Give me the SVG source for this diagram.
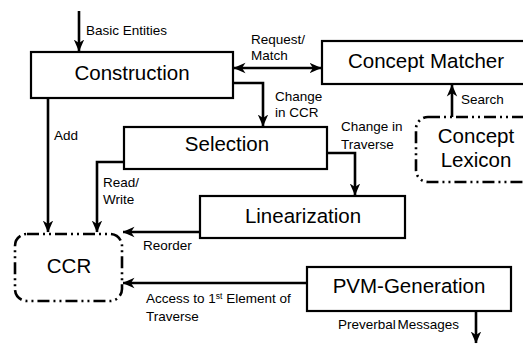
<svg xmlns="http://www.w3.org/2000/svg" width="523" height="347" viewBox="0 0 523 347">
<style>
  .box { fill: #fff; stroke: #000; stroke-width: 2.2; }
  .dd { fill: #fff; stroke: #000; stroke-width: 2.6; stroke-dasharray: 12 4 2 4 2 4; }
  .lbl { font-family: "Liberation Sans", Arial, sans-serif; font-size: 20.5px; fill: #000; text-anchor: middle; }
  .el { font-family: "Liberation Sans", Arial, sans-serif; font-size: 13.5px; fill: #000; }
  .conn { fill: none; stroke: #000; stroke-width: 2.6; }
</style>
<defs>
  <marker id="arr" viewBox="0 0 12 12" markerUnits="userSpaceOnUse" markerWidth="12" markerHeight="12" refX="11.5" refY="6" orient="auto-start-reverse">
    <path d="M0,0.8 L12,6 L0,11.2 L3.5,6 z" fill="#000"/>
  </marker>
</defs>
<rect width="523" height="347" fill="#fff"/>

<g id="connectors">
  <path class="conn" d="M79,11 V51" marker-end="url(#arr)"/>
  <path class="conn" d="M234,68 H321" marker-start="url(#arr)" marker-end="url(#arr)"/>
  <path class="conn" d="M233,83 H263 V126" marker-end="url(#arr)"/>
  <path class="conn" d="M48,98 V232" marker-end="url(#arr)"/>
  <path class="conn" d="M327,153 H355 V195" marker-end="url(#arr)"/>
  <path class="conn" d="M452,117 V85" marker-end="url(#arr)"/>
  <path class="conn" d="M124,162 H97 V232" marker-end="url(#arr)"/>
  <path class="conn" d="M200,232 H123" marker-end="url(#arr)"/>
  <path class="conn" d="M307,283 H123" marker-end="url(#arr)"/>
  <path class="conn" d="M476,311 V343" marker-end="url(#arr)"/>
</g>

<g id="construction">
  <rect class="box" x="31" y="52" width="202" height="46"/>
  <text class="lbl" x="132" y="80">Construction</text>
</g>
<g id="concept-matcher">
  <rect class="box" x="322" y="41" width="210" height="43"/>
  <text class="lbl" x="426" y="68">Concept Matcher</text>
</g>
<g id="selection">
  <rect class="box" x="124" y="127" width="203" height="42"/>
  <text class="lbl" x="227" y="151">Selection</text>
</g>
<g id="concept-lexicon">
  <rect class="dd" x="416" y="117" width="130" height="65" rx="12"/>
  <text class="lbl" x="476" y="143">Concept</text>
  <text class="lbl" x="476" y="167">Lexicon</text>
</g>
<g id="linearization">
  <rect class="box" x="200" y="196" width="205" height="42"/>
  <text class="lbl" x="303" y="223">Linearization</text>
</g>
<g id="ccr">
  <rect class="dd" x="15" y="234" width="107" height="67" rx="12"/>
  <text class="lbl" x="69" y="273">CCR</text>
</g>
<g id="pvm-generation">
  <rect class="box" x="307" y="267" width="204" height="44"/>
  <text class="lbl" x="409" y="293">PVM-Generation</text>
</g>

<g id="labels">
  <text class="el" x="86" y="35">Basic Entities</text>
  <text class="el" x="251" y="44">Request/</text>
  <text class="el" x="251" y="60">Match</text>
  <text class="el" x="275" y="101">Change</text>
  <text class="el" x="275" y="117">in CCR</text>
  <text class="el" x="54" y="140">Add</text>
  <text class="el" x="341" y="131">Change in</text>
  <text class="el" x="341" y="149">Traverse</text>
  <text class="el" x="461" y="104">Search</text>
  <text class="el" x="103" y="187">Read/</text>
  <text class="el" x="103" y="204">Write</text>
  <text class="el" x="143" y="250">Reorder</text>
  <text class="el" x="146" y="303">Access to 1<tspan font-size="8.5px" dy="-4.5">st</tspan><tspan dy="4.5"> Element of</tspan></text>
  <text class="el" x="146" y="321">Traverse</text>
  <text class="el" x="338" y="329" font-size="13px" word-spacing="-2">Preverbal Messages</text>
</g>
</svg>
